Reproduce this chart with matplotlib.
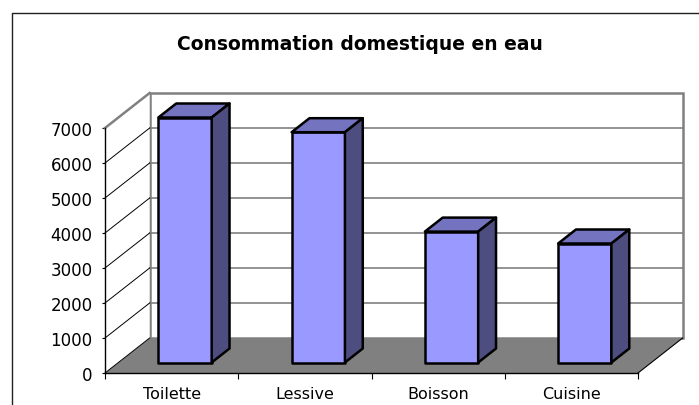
import matplotlib
matplotlib.use("Agg")
import matplotlib.pyplot as plt
from matplotlib.patches import Polygon
from matplotlib.lines import Line2D

# data
categories = ["Toilette", "Lessive", "Boisson", "Cuisine"]
values = [7000, 6580, 3740, 3400]
y_ticks = [0, 1000, 2000, 3000, 4000, 5000, 6000, 7000]
title = "Consommation domestique en eau"

# oblique "3D" look, like an old Excel chart
DX, DY = 0.335, 1000.0       # offset for one unit of depth (category units, value units)
VMAX = 7000
FRONT, TOP, SIDE = "#9999FF", "#7373BF", "#4D4D80"
GREY = "#808080"


def P(x, v, d):
    return (x + d * DX, v + d * DY)


W, H = 699, 406
fig = plt.figure(figsize=(W / 100, H / 100), dpi=100)
ax = fig.add_axes([105 / W, (H - 374) / H, 533 / W, 245 / H])
n = len(categories)
ax.set_xlim(0, n)
ax.set_ylim(0, VMAX)

# floor
ax.add_patch(Polygon([P(0, 0, 0), P(n, 0, 0), P(n, 0, 1), P(0, 0, 1)],
                     closed=True, facecolor=GREY, edgecolor="none", zorder=1, clip_on=False))
ax.plot(*zip(P(n, 0, 0), P(n, 0, 1)), color="black", lw=0.8, zorder=2, clip_on=False)

# back wall + side wall
ax.add_patch(Polygon([P(0, 0, 1), P(n, 0, 1), P(n, VMAX, 1), P(0, VMAX, 1)],
                     closed=True, facecolor="white", edgecolor=GREY, lw=1.8, zorder=1, clip_on=False))
ax.add_patch(Polygon([P(0, 0, 0), P(0, 0, 1), P(0, VMAX, 1), P(0, VMAX, 0)],
                     closed=True, facecolor="white", edgecolor="none", zorder=1, clip_on=False))
ax.plot(*zip(P(0, VMAX, 0), P(0, VMAX, 1)), color=GREY, lw=1.8, zorder=2, clip_on=False)

# gridlines: horizontal on back wall, diagonal on side wall
for v in y_ticks:
    if 0 < v < VMAX:
        ax.plot(*zip(P(0, v, 1), P(n, v, 1)), color=GREY, lw=1.2, zorder=2, clip_on=False)
    if v < VMAX:
        ax.plot(*zip(P(0, v, 0), P(0, v, 1)), color="black", lw=0.7, zorder=2, clip_on=False)

# bars
for i, v in enumerate(values):
    x0, x1, d0, d1 = i + 0.3, i + 0.7, 0.3, 0.7
    faces = [
        ([P(x0, 0, d0), P(x1, 0, d0), P(x1, v, d0), P(x0, v, d0)], FRONT),
        ([P(x0, v, d0), P(x1, v, d0), P(x1, v, d1), P(x0, v, d1)], TOP),
        ([P(x1, 0, d0), P(x1, 0, d1), P(x1, v, d1), P(x1, v, d0)], SIDE),
    ]
    for pts, c in faces:
        ax.add_patch(Polygon(pts, closed=True, facecolor=c, edgecolor="black",
                             lw=1.8, joinstyle="round", zorder=3, clip_on=False))

# axes
for s in ("top", "right"):
    ax.spines[s].set_visible(False)
for s in ("left", "bottom"):
    ax.spines[s].set_color("black")
    ax.spines[s].set_linewidth(1.0)
    ax.spines[s].set_zorder(4)

ax.set_yticks(y_ticks)
ax.set_yticklabels([str(t) for t in y_ticks])
ax.tick_params(axis="y", direction="out", length=2.5, width=0.8, pad=6.5, labelsize=12)

ax.set_xticks(range(n + 1))
ax.set_xticklabels([])
ax.set_xticks([i + 0.5 for i in range(n)], minor=True)
ax.set_xticklabels(categories, minor=True)
ax.tick_params(axis="x", which="major", direction="out", length=4, width=0.8)
ax.tick_params(axis="x", which="minor", length=0, pad=9.5, labelsize=11.5)

fig.text(360 / W, 1 - 50.5 / H, title, ha="center", va="baseline",
         fontsize=13.5, fontweight="bold")

# chart area border (left and top edges visible)
fig.add_artist(Line2D([12 / W, 12 / W, 1.0], [0.0, 1 - 14 / H, 1 - 14 / H],
                      transform=fig.transFigure, color="#222222", lw=1.0))

fig.savefig("out.png", dpi=100)
